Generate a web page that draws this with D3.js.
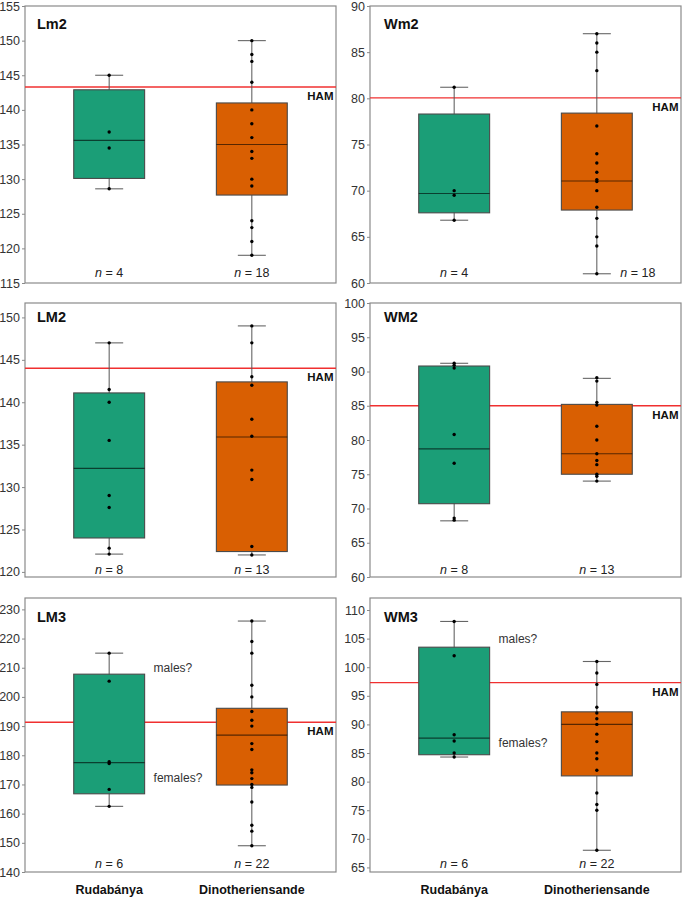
<!DOCTYPE html>
<html><head><meta charset="utf-8">
<script src="https://cdn.jsdelivr.net/npm/d3@7/dist/d3.min.js"></script>
<style>
body{margin:0;background:#fff;}
text{font-family:"Liberation Sans",Arial,sans-serif;}
</style></head>
<body><svg id="c" width="685" height="899"></svg>
<script>
// ---------------- DATA ----------------
const panelNames = ["Lm2","Wm2","LM2","WM2","LM3","WM3"];
const groups = ["Rudabánya","Dinotheriensande"];
const yDomains = [[115,155],[60,90],[119.4,151.7],[60,100],[140,233.9],[64.2,112.1]];
const yTickLabels = [
  [115,120,125,130,135,140,145,150,155],
  [60,65,70,75,80,85,90],
  [120,125,130,135,140,145,150],
  [60,65,70,75,80,85,90,95,100],
  [140,150,160,170,180,190,200,210,220,230],
  [65,70,75,80,85,90,95,100,105,110]
];
const hamValues = [143.3,80.05,144.0,85.0,191.3,97.3];
const nRud = [4,4,8,8,6,6];
const nDino = [18,18,13,13,22,22];
// box statistics [low whisker, Q1, median, Q3, high whisker]
const statsRud = [
  [128.6,130.1,135.6,142.9,145],
  [66.8,67.6,69.7,78.3,81.2],
  [122.1,124.0,132.2,141.1,147],
  [68.2,70.7,78.7,90.8,91.2],
  [162.5,166.8,177.5,207.8,215],
  [84.3,84.7,87.6,103.5,108]
];
const statsDino = [
  [119,127.7,135.0,141.0,150],
  [61,67.9,71.05,78.4,87],
  [122,122.4,135.9,142.4,149],
  [74,75.0,78.0,85.2,89],
  [149,169.8,186.9,196.1,226],
  [68,81.0,90.0,92.2,101]
];
const pointsRud = [
  [145,136.8,134.5,128.6],
  [81.2,70.0,69.5,66.8],
  [147,141.5,140,135.5,129,127.6,122.8,122.1],
  [91.2,90.9,90.5,80.8,76.6,68.6,68.3],
  [215,205.4,177.8,177.2,168.3,162.5],
  [108,102,88.2,87.1,85,84.3]
];
const pointsDino = [
  [150,148,147,144,140,138,136,134,133,130,129,124,123,121,119],
  [87,86,85,83,77,74,73,72,71.2,71,70,68.2,67,65,64,61],
  [149,147,143,142,138,136,132,130.9,123,122],
  [89.1,88.6,85.5,85.1,82,80,78,77,76.4,75,74.7,74],
  [226,219,215,204,200,195,192,190,184,182,175,174,172,170,169,164,156,154,149],
  [101,99,97,93,92,91,90,88.3,87,85,84,82,78,76,75,68]
];
// sex annotations (only LM3, WM3): [panel index, label, value]
const annotPanels = [4,4,5,5];
const annotLabels = ["males?","females?","males?","females?"];
const annotValues = [210,172.4,104.9,86.8];

// ---------------- LAYOUT ----------------
const colX = [[25,336],[370,681]];
const rowY = [[6,283],[303,577],[598,872]];
const nBaseline = [277,573.5,868];
const titleBaseline = [29,322,622];
const titleX = [37,384];
const colors = ["#1b9e77","#d95f02"];

const svg = d3.select("#c");

panelNames.forEach((name,i)=>{
  const col = i%2, row = Math.floor(i/2);
  const [x0,x1] = colX[col], [y0,y1] = rowY[row];
  const g = svg.append("g");
  const y = d3.scaleLinear().domain(yDomains[i]).range([y1,y0]);
  const x = d3.scalePoint().domain(groups).range([x0,x1]).padding(0.59);
  const bw = (x1-x0)*0.228, cap = 28;

  // frame
  g.append("rect").attr("x",x0).attr("y",y0).attr("width",x1-x0).attr("height",y1-y0)
    .attr("fill","none").attr("stroke","#8a8a8a").attr("stroke-width",1.2);

  // axis
  const ax = g.append("g").attr("transform",`translate(${x0},0)`)
    .call(d3.axisLeft(y).tickValues(yTickLabels[i]).tickSize(3).tickPadding(2).tickFormat(d3.format("d")));
  ax.select(".domain").remove();
  ax.selectAll(".tick line").attr("stroke","#8a8a8a");
  ax.selectAll(".tick text").attr("fill","#333").style("font-size","12.5px")
    .style("font-family","'Liberation Sans',Arial,sans-serif");

  // HAM line
  g.append("line").attr("x1",x0).attr("x2",x1).attr("y1",y(hamValues[i])).attr("y2",y(hamValues[i]))
    .attr("stroke","#f03030").attr("stroke-width",1.4);
  g.append("text").attr("x",x1-2.5).attr("y",y(hamValues[i])+13).attr("text-anchor","end")
    .attr("font-weight","bold").attr("font-size","11.5px").attr("fill","#111").text("HAM");

  // boxes
  [statsRud[i],statsDino[i]].forEach((s,k)=>{
    const cx = x(groups[k]);
    const [lo,q1,md,q3,hi] = s;
    g.append("line").attr("x1",cx).attr("x2",cx).attr("y1",y(hi)).attr("y2",y(lo))
      .attr("stroke","#555").attr("stroke-width",1);
    [lo,hi].forEach(v=>g.append("line").attr("x1",cx-cap/2).attr("x2",cx+cap/2)
      .attr("y1",y(v)).attr("y2",y(v)).attr("stroke","#666").attr("stroke-width",1.1));
    g.append("rect").attr("x",cx-bw/2).attr("width",bw).attr("y",y(q3)).attr("height",y(q1)-y(q3))
      .attr("fill",colors[k]).attr("stroke","#4a4a4a").attr("stroke-width",1.1);
    g.append("line").attr("x1",cx-bw/2).attr("x2",cx+bw/2).attr("y1",y(md)).attr("y2",y(md))
      .attr("stroke","rgba(0,0,0,0.6)").attr("stroke-width",1.1);
  });

  // points
  [pointsRud[i],pointsDino[i]].forEach((pts,k)=>{
    const cx = x(groups[k]);
    g.selectAll(null).data(pts).enter().append("circle")
      .attr("cx",cx).attr("cy",d=>y(d)).attr("r",1.7).attr("fill","#000");
  });

  // n labels
  [nRud[i],nDino[i]].forEach((n,k)=>{
    let cx = x(groups[k]);
    if(i===1 && k===1) cx += 41;
    const t = g.append("text").attr("x",cx).attr("y",nBaseline[row]).attr("text-anchor","middle")
      .attr("font-size","12.5px").attr("fill","#222");
    t.append("tspan").attr("font-style","italic").text("n");
    t.append("tspan").text(" = "+n);
  });

  // title
  g.append("text").attr("x",titleX[col]).attr("y",titleBaseline[row]).attr("font-weight","bold")
    .attr("font-size","14.5px").attr("fill","#111").text(name);

  // annotations
  annotPanels.forEach((p,j)=>{
    if(p!==i) return;
    g.append("text").attr("x",x(groups[0])+bw/2+9).attr("y",y(annotValues[j]))
      .attr("dy","0.35em").attr("font-size","12px").attr("fill","#333").text(annotLabels[j]);
  });

  // category labels (bottom row)
  if(row===2){
    groups.forEach(gr=>{
      g.append("text").attr("x",x(gr)).attr("y",894).attr("text-anchor","middle")
        .attr("font-weight","bold").attr("font-size","12.5px").attr("fill","#111").text(gr);
    });
  }
});
</script></body></html>
